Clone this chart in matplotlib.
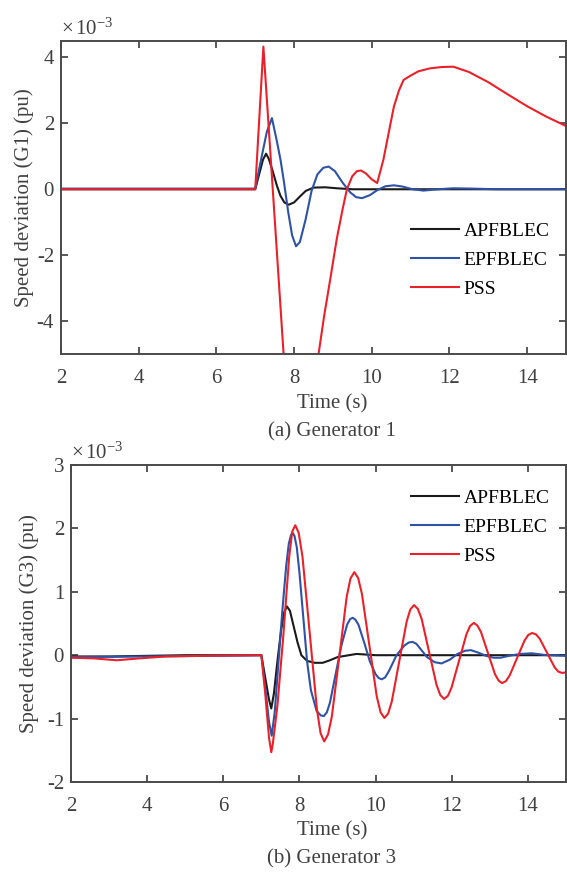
import numpy as np
import matplotlib
matplotlib.use('Agg')
import matplotlib.pyplot as plt

plt.rcParams['font.family'] = ['Liberation Serif', 'DejaVu Serif']
plt.rcParams['mathtext.fontset'] = 'custom'
plt.rcParams['mathtext.rm'] = 'Liberation Serif'
plt.rcParams['mathtext.it'] = 'Liberation Serif:italic'
plt.rcParams['axes.unicode_minus'] = False

TXT = '#404040'
AX = '#4a4a4a'
C_APF = '#1a1a1a'
C_EPF = '#2f52a4'
C_PSS = '#e8212b'

labels = ['APFBLEC', 'EPFBLEC', 'PSS']

# Generator 1 speed deviation (x 1e-3 pu)
g1_apf_t = [2.0, 7.0, 7.1, 7.2, 7.28, 7.35, 7.45, 7.56, 7.65, 7.75, 7.86, 8.0, 8.15, 8.3, 8.5, 8.8, 9.1, 9.5, 10.0, 15.0]
g1_apf_v = [0.0, 0.0, 0.45, 0.9, 1.08, 0.92, 0.55, 0.1, -0.2, -0.4, -0.47, -0.4, -0.22, -0.05, 0.05, 0.06, 0.03, 0.0, 0.0, 0.0]

g1_epf_t = [2.0, 7.0, 7.15, 7.3, 7.43, 7.55, 7.65, 7.73, 7.85, 7.95, 8.05, 8.15, 8.3, 8.45, 8.6, 8.75, 8.89,
            9.05, 9.25, 9.45, 9.6, 9.75, 9.95, 10.15, 10.35, 10.57, 10.8, 11.05, 11.33, 11.7, 12.1, 12.6, 13.2, 15.0]
g1_epf_v = [0.02, 0.02, 0.9, 1.75, 2.16, 1.5, 0.9, 0.3, -0.7, -1.4, -1.73, -1.6, -0.9, -0.05, 0.45, 0.65, 0.69,
            0.55, 0.2, -0.1, -0.24, -0.27, -0.18, -0.02, 0.09, 0.12, 0.08, 0.0, -0.04, 0.0, 0.03, 0.02, 0.0, 0.0]

g1_pss_t = [2.0, 7.0, 7.21, 7.73, 7.85, 8.0, 8.15, 8.3, 8.45, 8.63, 8.78, 8.93, 9.1, 9.25, 9.36, 9.5, 9.62, 9.72,
            9.85, 10.0, 10.14, 10.3, 10.45, 10.57, 10.7, 10.82, 11.0, 11.2, 11.5, 11.8, 12.1, 12.5, 13.0, 13.5, 14.0, 14.5, 15.0]
g1_pss_v = [0.0, 0.0, 4.33, -5.0, -6.8, -7.7, -7.9, -7.4, -6.4, -5.0, -3.8, -2.74, -1.5, -0.6, 0.0, 0.4, 0.55, 0.57,
            0.48, 0.3, 0.19, 0.9, 1.8, 2.51, 3.0, 3.32, 3.45, 3.58, 3.67, 3.71, 3.72, 3.56, 3.25, 2.88, 2.52, 2.2, 1.92]

# Generator 3 speed deviation (x 1e-3 pu)
g3_apf_t = [2.0, 3.0, 5.0, 7.0, 7.1, 7.2, 7.26, 7.33, 7.42, 7.52, 7.6, 7.67, 7.75, 7.85, 7.95, 8.05, 8.2, 8.4,
            8.61, 8.8, 9.0, 9.3, 9.5, 10.0, 15.0]
g3_apf_v = [-0.02, -0.02, 0.0, 0.0, -0.35, -0.7, -0.84, -0.6, -0.1, 0.4, 0.68, 0.77, 0.7, 0.45, 0.2, 0.0, -0.09, -0.12,
            -0.12, -0.08, -0.03, 0.0, 0.02, 0.0, 0.0]

g3_epf_t = [2.0, 4.0, 7.0, 7.1, 7.2, 7.27, 7.35, 7.45, 7.55, 7.65, 7.72, 7.78, 7.82, 7.87, 7.93, 8.0, 8.1, 8.2, 8.3, 8.45,
            8.56, 8.64, 8.72, 8.8, 8.95, 9.1, 9.25, 9.33, 9.4, 9.47, 9.55, 9.7, 9.85, 10.0, 10.08, 10.16, 10.25, 10.35,
            10.55, 10.75, 10.87, 10.97, 11.07, 11.15, 11.35, 11.55, 11.73, 11.95, 12.15, 12.35, 12.5, 12.7, 12.9,
            13.1, 13.28, 13.5, 13.8, 14.1, 14.5, 15.0]
g3_epf_v = [-0.03, -0.02, 0.0, -0.5, -1.05, -1.27, -0.9, -0.1, 0.7, 1.4, 1.76, 1.9, 1.93, 1.88, 1.7, 1.3, 0.6, -0.1, -0.55,
            -0.88, -0.95, -0.96, -0.9, -0.75, -0.3, 0.15, 0.48, 0.57, 0.59, 0.56, 0.48, 0.2, -0.1, -0.3, -0.36, -0.38,
            -0.35, -0.25, 0.0, 0.15, 0.2, 0.21, 0.18, 0.12, -0.03, -0.11, -0.13, -0.07, 0.02, 0.07, 0.08, 0.04, -0.01,
            -0.04, -0.04, -0.01, 0.02, 0.03, 0.0, -0.01]

g3_pss_t = [2.0, 2.6, 3.2, 3.8, 4.5, 5.5, 7.0, 7.1, 7.2, 7.26, 7.3, 7.42, 7.575, 7.73, 7.81, 7.89, 7.98, 8.08, 8.27, 8.46,
            8.555, 8.65, 8.75, 8.85, 9.045, 9.24, 9.34, 9.44, 9.54, 9.64, 9.835, 10.03, 10.13, 10.23, 10.33, 10.425,
            10.62, 10.815, 10.91, 11.01, 11.11, 11.21, 11.405, 11.6, 11.7, 11.8, 11.9, 11.995, 12.19, 12.385, 12.48,
            12.58, 12.67, 12.765, 12.95, 13.135, 13.23, 13.32, 13.42, 13.52, 13.715, 13.91, 14.01, 14.11, 14.21,
            14.31, 14.505, 14.7, 14.8, 14.9, 15.0]
g3_pss_v = [-0.04, -0.05, -0.08, -0.05, -0.02, -0.01, 0.0, -0.6, -1.3, -1.53, -1.4, -0.8, 0.3, 1.55, 1.95, 2.05, 1.93, 1.55,
            0.345, -0.86, -1.23, -1.36, -1.25, -0.97, -0.03, 0.92, 1.21, 1.31, 1.22, 0.97, 0.16, -0.65, -0.9, -0.99,
            -0.92, -0.73, -0.1, 0.53, 0.72, 0.79, 0.73, 0.57, 0.05, -0.47, -0.63, -0.69, -0.64, -0.51, -0.09, 0.33,
            0.46, 0.51, 0.47, 0.37, 0.035, -0.3, -0.4, -0.44, -0.41, -0.32, -0.045, 0.23, 0.32, 0.35, 0.33, 0.26,
            0.035, -0.19, -0.26, -0.28, -0.27]

W, H = 567, 877
fig = plt.figure(figsize=(W / 100, H / 100), dpi=100)


def px_rect(l, t, r, b):
    return [l / W, 1 - b / H, (r - l) / W, (b - t) / H]


def fx(x):
    return x / W


def fy(y):
    return 1 - y / H


def style_axes(ax, ylim, yticks, ylabel, label_x):
    ax.set_xlim(2, 15)
    ax.set_ylim(*ylim)
    ax.set_xticks([2, 4, 6, 8, 10, 12, 14])
    ax.set_yticks(yticks)
    ax.tick_params(direction='in', length=5, width=1.3, color=AX, labelcolor=TXT,
                   labelsize=15, top=True, right=True)
    ax.tick_params(axis='x', pad=11)
    ax.tick_params(axis='y', pad=5)
    for s in ax.spines.values():
        s.set_color(AX)
        s.set_linewidth(1.4)
    ax.set_ylabel(ylabel, fontsize=15, color=TXT)
    ax.yaxis.set_label_coords(label_x, 0.5)


def add_legend(ax, left, top):
    ax.legend(loc='upper left', bbox_to_anchor=(fx(left), fy(top)), bbox_transform=fig.transFigure,
              frameon=False, fontsize=14, handlelength=2.45, handletextpad=0.25,
              labelspacing=0.6, borderaxespad=0, borderpad=0)


ax1 = fig.add_axes(px_rect(61, 41, 566, 354))
ax1.plot(g1_apf_t, g1_apf_v, color=C_APF, lw=1.5, label=labels[0])
ax1.plot(g1_epf_t, g1_epf_v, color=C_EPF, lw=1.5, label=labels[1])
ax1.plot(g1_pss_t, g1_pss_v, color=C_PSS, lw=1.5, label=labels[2])
style_axes(ax1, (-5, 4.5), [-4, -2, 0, 2, 4], 'Speed deviation (G1) (pu)', -0.053)
add_legend(ax1, 411, 222)

ax2 = fig.add_axes(px_rect(71, 465, 566, 782))
ax2.plot(g3_apf_t, g3_apf_v, color=C_APF, lw=1.5, label=labels[0])
ax2.plot(g3_epf_t, g3_epf_v, color=C_EPF, lw=1.5, label=labels[1])
ax2.plot(g3_pss_t, g3_pss_v, color=C_PSS, lw=1.5, label=labels[2])
style_axes(ax2, (-2, 3), [-2, -1, 0, 1, 2, 3], 'Speed deviation (G3) (pu)', -0.064)
add_legend(ax2, 411, 489)

# exponent markers above each axes
fig.text(fx(61), fy(35), r'$\times\,10^{-3}$', fontsize=15, color=TXT, ha='left', va='baseline')
fig.text(fx(71), fy(459), r'$\times\,10^{-3}$', fontsize=15, color=TXT, ha='left', va='baseline')

fig.text(fx(332), fy(404), 'Time (s)', fontsize=15, color=TXT, ha='center', va='center')
fig.text(fx(332), fy(432), '(a) Generator 1', fontsize=15, color=TXT, ha='center', va='center')
fig.text(fx(332), fy(831), 'Time (s)', fontsize=15, color=TXT, ha='center', va='center')
fig.text(fx(332), fy(859), '(b) Generator 3', fontsize=15, color=TXT, ha='center', va='center')

fig.savefig('out.png', dpi=100)
